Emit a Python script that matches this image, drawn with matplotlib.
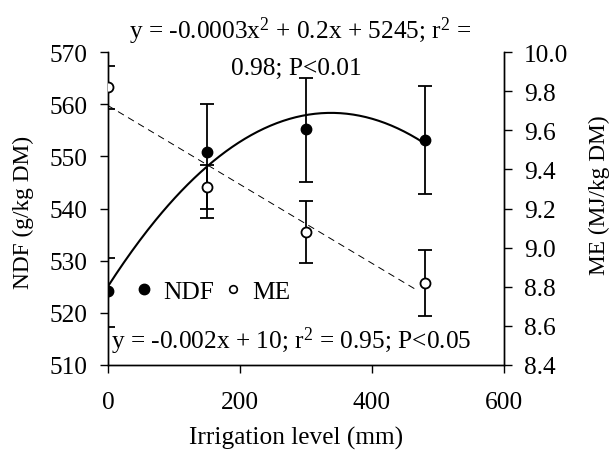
import numpy as np
import matplotlib
matplotlib.use("Agg")
import matplotlib.pyplot as plt
from matplotlib.lines import Line2D

# === DATA ===
irrigation = [0, 150, 300, 480]

ndf = [524.1, 550.9, 555.3, 553.2]
ndf_err_low = [6.8, 12.8, 10.2, 10.5]
ndf_err_high = [6.4, 9.1, 9.7, 10.3]

me = [9.82, 9.31, 9.08, 8.82]
me_err = [0.11, 0.11, 0.16, 0.17]

eq_ndf_1 = "y = -0.0003x$\\mathregular{^2}$ + 0.2x + 5245; r$\\mathregular{^2}$ ="
eq_ndf_2 = "0.98; P<0.01"
eq_me = "y = -0.002x + 10; r$\\mathregular{^2}$ = 0.95; P<0.05"

# === STYLE ===
plt.rcParams["font.family"] = ["Liberation Serif", "DejaVu Serif"]
plt.rcParams["mathtext.fontset"] = "custom"
plt.rcParams["mathtext.rm"] = "Liberation Serif"
FS = 18.3     # horizontal text
FS_LAB = 16.8 # rotated axis labels

fig = plt.figure(figsize=(6.14, 4.52), dpi=100)
ax = fig.add_axes([0.1759, 0.1903, 0.6449, 0.6924])
ax2 = ax.twinx()

# fitted trends
xs = np.linspace(0, 480, 200)
p_ndf = np.polyfit(irrigation, ndf, 2)
ax.plot(xs, np.polyval(p_ndf, xs), color="black", lw=1.5, zorder=2)
p_me = np.polyfit(irrigation, me, 1)
xl = np.array([0, 470])
ax2.plot(xl, np.polyval(p_me, xl), color="black", lw=0.7, dashes=(7, 5), zorder=2)

# NDF points
ax.errorbar(irrigation, ndf, yerr=[ndf_err_low, ndf_err_high], fmt="o", color="black",
            mfc="black", ms=7.5, elinewidth=1.3, capsize=5, capthick=1.3, zorder=3)
# ME points
ax2.errorbar(irrigation, me, yerr=me_err, fmt="o", color="black", mfc="white", mec="black",
             mew=1.3, ms=7.2, elinewidth=1.3, capsize=5, capthick=1.3, zorder=3)

ax.set_xlim(0, 600)
ax.set_ylim(510, 570)
ax2.set_ylim(8.4, 10.0)
ax.set_xticks([0, 200, 400, 600])
ax.set_yticks(np.arange(510, 571, 10))
me_ticks = np.arange(8.4, 10.01, 0.2)
ax2.set_yticks(me_ticks)
ax2.set_yticklabels([f"{v:.1f}" for v in me_ticks])

for a in (ax, ax2):
    a.spines["top"].set_visible(False)
    for s in a.spines.values():
        s.set_linewidth(1.0)
ax.tick_params(axis="x", direction="out", length=5.5, width=1, pad=13, labelsize=FS)
ax.tick_params(axis="y", direction="out", length=5.5, width=1, pad=9, labelsize=FS)
ax2.tick_params(axis="y", direction="out", length=5.5, width=1, pad=9, labelsize=FS)

ax.set_xlabel("Irrigation level (mm)", fontsize=FS)
ax.xaxis.set_label_coords(0.474, -0.195)
ax.set_ylabel("NDF (g/kg DM)", fontsize=FS_LAB)
ax.yaxis.set_label_coords(-0.186, 0.492)
ax2.set_ylabel("ME (MJ/kg DM)", fontsize=FS_LAB)
ax2.yaxis.set_label_coords(1.214, 0.546)

# equations
ax.text(0.485, 1.045, eq_ndf_1, transform=ax.transAxes, ha="center", va="baseline", fontsize=FS)
ax.text(0.475, 0.93, eq_ndf_2, transform=ax.transAxes, ha="center", va="baseline", fontsize=FS)
ax.text(0.462, 0.054, eq_me, transform=ax.transAxes, ha="center", va="baseline", fontsize=FS)

# legend
handles = [Line2D([], [], ls="none", marker="o", color="black", mfc="black", ms=7.5),
           Line2D([], [], ls="none", marker="o", color="black", mfc="white", mew=1.2, ms=5.5)]
ax.legend(handles, ["NDF", "ME"], loc="center left", bbox_to_anchor=(0.076, 0.236),
          frameon=False, ncol=2, fontsize=FS, handlelength=0.5, handletextpad=0.5,
          columnspacing=0.5, borderpad=0, borderaxespad=0)

fig.savefig("out.png", dpi=100)
